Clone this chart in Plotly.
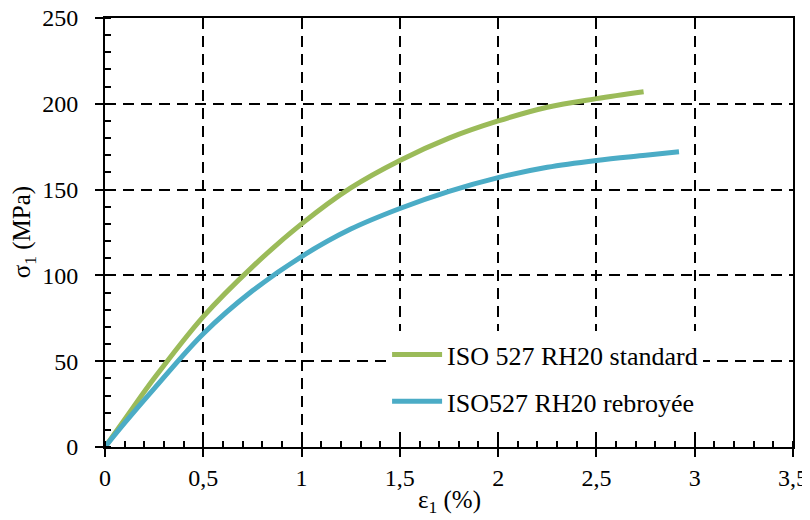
import plotly.graph_objects as go

# Data
strain_standard = [0, 0.1, 0.25, 0.5, 0.75, 1.0, 1.25, 1.5, 1.75, 2.0, 2.25, 2.5, 2.74]
stress_standard = [0, 16, 40, 76, 105, 130, 151, 167, 180, 190, 198, 203, 207]

strain_rebroyee = [0, 0.1, 0.25, 0.5, 0.75, 1.0, 1.25, 1.5, 1.75, 2.0, 2.25, 2.5, 2.75, 2.92]
stress_rebroyee = [0, 14, 34, 66, 91, 111, 127, 139, 149, 157, 163, 167, 170, 172]

name_standard = "ISO 527 RH20 standard"
name_rebroyee = "ISO527 RH20 rebroyée"

x_tickvals = [0, 0.5, 1, 1.5, 2, 2.5, 3, 3.5]
x_ticktext = ["0", "0,5", "1", "1,5", "2", "2,5", "3", "3,5"]
y_tickvals = [0, 50, 100, 150, 200, 250]
y_ticktext = ["0", "50", "100", "150", "200", "250"]
x_title = "ε<sub>1</sub> (%)"
y_title = "σ<sub>1</sub> (MPa)"

FONT = "Liberation Serif, Times New Roman, serif"

fig = go.Figure()
fig.add_trace(go.Scatter(x=strain_standard, y=stress_standard, mode="lines",
                         name=name_standard, legendgroup="a",
                         line=dict(color="#9BBB59", width=5, shape="spline")))
fig.add_trace(go.Scatter(x=strain_rebroyee, y=stress_rebroyee, mode="lines",
                         name=name_rebroyee, legendgroup="b",
                         line=dict(color="#4BACC6", width=5, shape="spline")))

fig.update_xaxes(
    showline=True, linecolor="black", linewidth=2, mirror=True,
    showgrid=True, gridcolor="black", gridwidth=2, griddash="11px,7px",
    ticks="outside", ticklen=8, tickwidth=2, tickcolor="black",
    zeroline=False, ticklabeloverflow="allow",
    tickfont=dict(family=FONT, size=24, color="black"),
    range=[0, 3.5], tickvals=x_tickvals, ticktext=x_ticktext,
    minor=dict(dtick=0.1, ticks="inside", ticklen=6, tickwidth=2, tickcolor="black", showgrid=False),
    ticklabelstandoff=0,
)
fig.update_yaxes(
    showline=True, linecolor="black", linewidth=2, mirror=True,
    showgrid=True, gridcolor="black", gridwidth=2, griddash="11px,7px",
    ticks="outside", ticklen=8, tickwidth=2, tickcolor="black",
    zeroline=False, ticklabeloverflow="allow",
    tickfont=dict(family=FONT, size=24, color="black"),
    range=[0, 250], tickvals=y_tickvals, ticktext=y_ticktext,
    minor=dict(dtick=10, ticks="inside", ticklen=6, tickwidth=2, tickcolor="black", showgrid=False),
    ticklabelstandoff=12,
)

fig.add_annotation(text=x_title, xref="paper", yref="paper", x=0.5, y=-0.128,
                   xanchor="center", yanchor="middle", showarrow=False,
                   font=dict(family=FONT, size=25, color="black"))
fig.add_annotation(text=y_title, xref="paper", yref="paper", x=-0.118, y=0.5,
                   xanchor="center", yanchor="middle", showarrow=False, textangle=-90,
                   font=dict(family=FONT, size=25, color="black"))

fig.update_layout(
    width=802, height=512,
    margin=dict(l=97, r=17, t=10, b=73, autoexpand=False),
    plot_bgcolor="white", paper_bgcolor="white",
    font=dict(family=FONT, color="black"),
    showlegend=True,
    legend=dict(
        x=0.41, y=0.27, xanchor="left", yanchor="top",
        bgcolor="white", borderwidth=0,
        font=dict(family=FONT, size=26, color="black"),
        itemwidth=50, tracegroupgap=10, traceorder="grouped",
    ),
)

fig.write_html("out.html")
